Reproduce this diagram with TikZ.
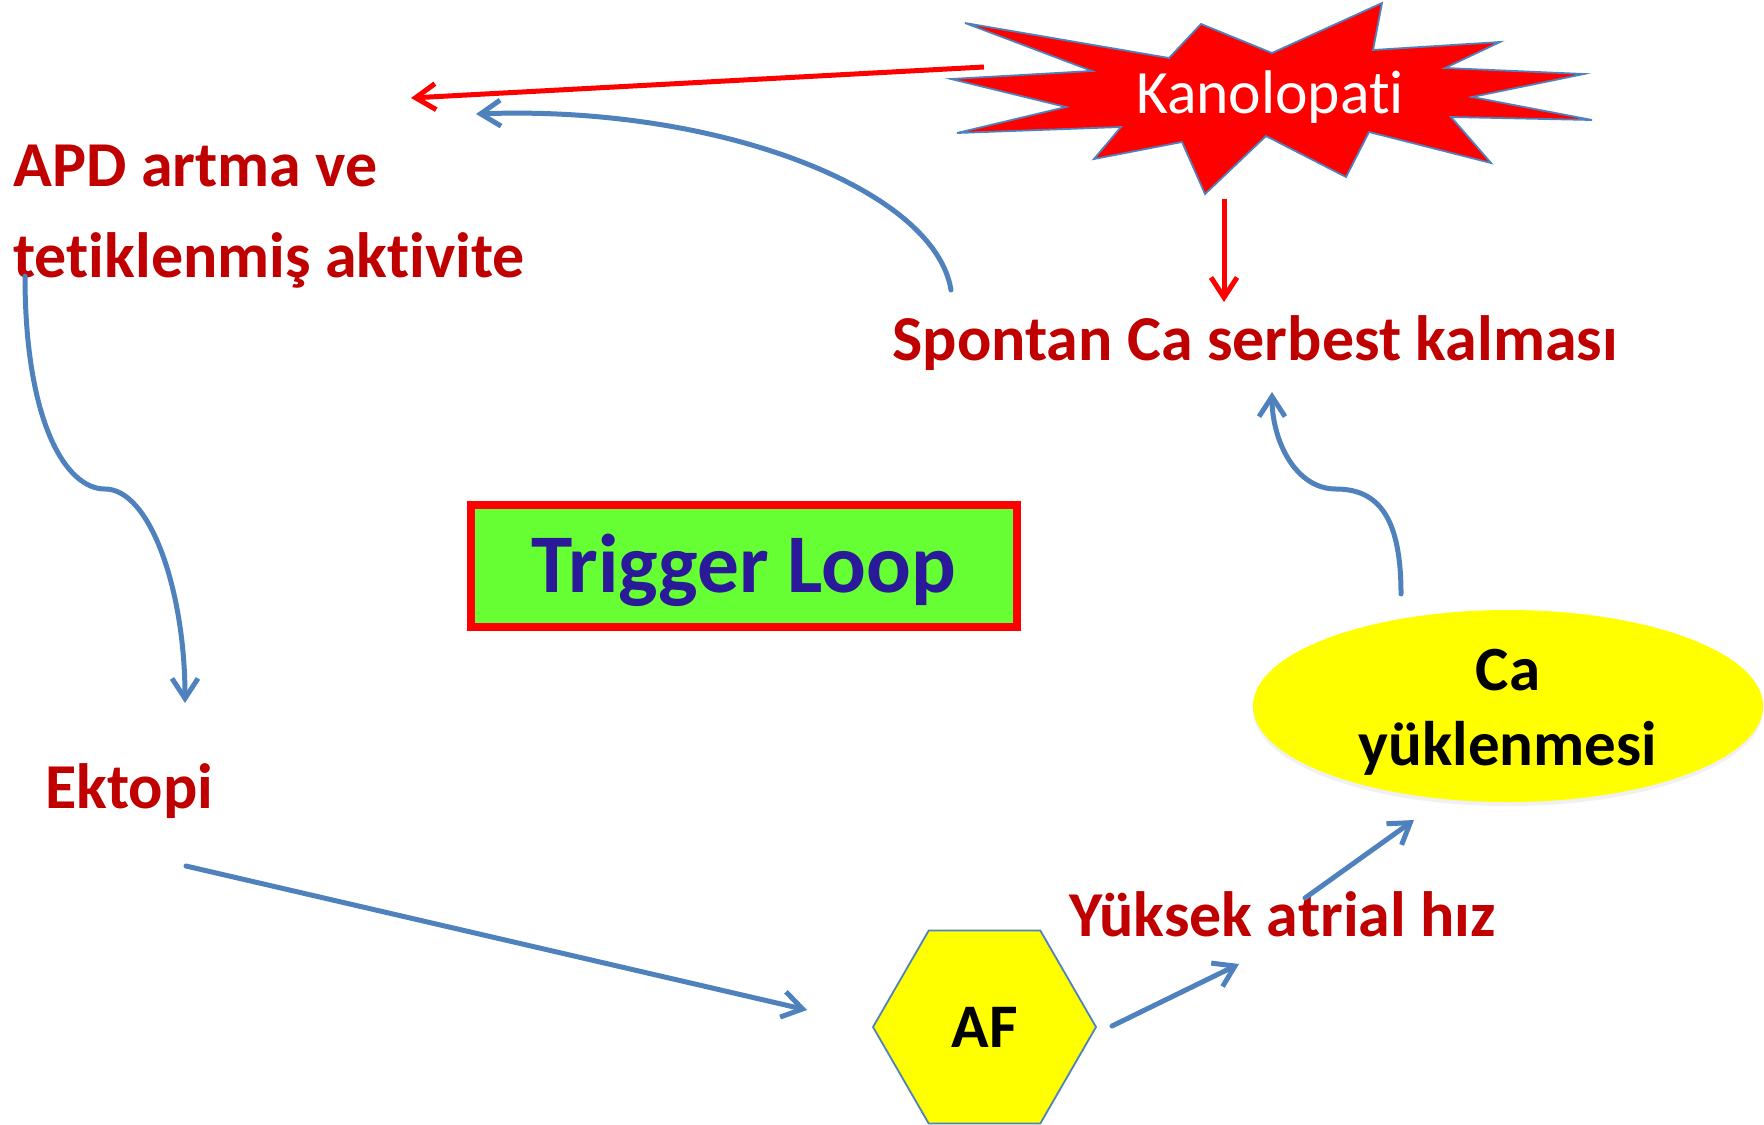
\documentclass[tikz,border=0pt]{standalone}
\usepackage{fontspec}
\setmainfont{Carlito}[RawFeature={-liga}]
\usetikzlibrary{arrows.meta,shapes.geometric,shadows}

\definecolor{txtred}{HTML}{C00000}
\definecolor{arrred}{HTML}{FF0000}
\definecolor{arrblue}{HTML}{4F81BD}
\definecolor{loopblue}{HTML}{2A1A99}
\definecolor{loopgreen}{HTML}{66FF33}
\definecolor{ylw}{HTML}{FFFF00}

\begin{document}
\begin{tikzpicture}[x=0.5pt,y=-0.5pt,
  lbl/.style={text=txtred, font=\fontsize{32}{38}\selectfont\bfseries, inner sep=0pt, anchor=base west},
  blk/.style={text=black, font=\fontsize{31.5}{38}\selectfont\bfseries, inner sep=0pt, anchor=base},
  barrow/.style={draw=arrblue, line width=2.5pt, line cap=round, -{Straight Barb[length=10pt,width=13pt]}},
  rarrow/.style={draw=arrred, line width=2.5pt, -{Straight Barb[length=10pt,width=13pt]}},
]
\useasboundingbox (0,0) rectangle (1764,1124);

% starburst
\filldraw[fill=arrred, draw=arrblue, line width=0.9pt, line join=miter]
  (965,23) -- (1169,58) -- (1201,24) -- (1272,53) -- (1382,3) -- (1373,50)
  -- (1500,42) -- (1445,68) -- (1584,74) -- (1472,97) -- (1592,120)
  -- (1451,117) -- (1491,163) -- (1369,132) -- (1346,177) -- (1266,136)
  -- (1205,194) -- (1182,142) -- (1094,159) -- (1121,127) -- (957,133)
  -- (1066,107) -- (951,79) -- (1092,71) -- cycle;
\node[text=white, font=\fontsize{30.8}{37}\selectfont, inner sep=0pt, anchor=base] (kan) at (1270,113) {Kanolopati};

% labels
\node[lbl] (apd1) at (13,186) {APD artma ve};
\node[lbl] (apd2) at (13,277) {tetiklenmiş aktivite};
\node[lbl] (spon) at (892,360) {Spontan Ca serbest kalması};
\node[lbl] (ekt) at (45,808) {Ektopi};
\node[lbl] (yuk) at (1069,936) {Yüksek atrial hız};

% trigger loop box
\node[draw=arrred, line width=3.75pt, fill=loopgreen, minimum width=273pt, minimum height=61pt,
      inner sep=0pt, text=loopblue, font=\fontsize{41.7}{50}\selectfont\bfseries,
      text height=26.8pt, text depth=0pt] (trig) at (744,566) {Trigger Loop};

% ellipse
\node[ellipse, fill=ylw, minimum width=255pt, minimum height=96pt, inner sep=0pt,
      drop shadow={shadow xshift=0pt, shadow yshift=-2pt, opacity=0.12}] (ca) at (1508,706) {};
\node[blk] (ca1) at (1508,690) {Ca};
\node[blk] (ca2) at (1508,765) {yüklenmesi};

% hexagon
\node[regular polygon, regular polygon sides=6, minimum size=111.5pt, inner sep=0pt,
      fill=ylw, draw=arrblue, line width=0.9pt, text=black,
      font=\fontsize{31}{36}\selectfont\bfseries] (af) at (984.5,1027) {AF};

% coordinates for connector ends
\coordinate (kanL) at (984,67);
\coordinate (apdR) at (411,98);
\coordinate (sponT) at (951,290);
\coordinate (apdR2) at (476,114);
\coordinate (kanB) at (1224,199);
\coordinate (sponTop) at (1224,302);
\coordinate (caT) at (1401,594);
\coordinate (sponB) at (1272,392);
\coordinate (apdB) at (25,276);
\coordinate (ektT) at (185,703);
\coordinate (ektB) at (186,866);
\coordinate (afL) at (807,1010);
\coordinate (afR) at (1112,1026);
\coordinate (yukL) at (1239,964);
\coordinate (yukR) at (1305,898);
\coordinate (caB) at (1414,820);

% connectors
\draw[rarrow] (kanL) -- (apdR);
\draw[barrow] (sponT) .. controls (935,190) and (720,105) .. (apdR2);
\draw[rarrow] (kanB) -- (sponTop);
\draw[barrow] (caT) .. controls (1401,520) and (1380,489) .. (1336,489)
  .. controls (1295,489) and (1272,440) .. (sponB);
\draw[barrow] (apdB) .. controls (25,420) and (65,489) .. (105,489)
  .. controls (150,489) and (185,590) .. (ektT);
\draw[barrow] (ektB) -- (afL);
\draw[barrow] (afR) -- (yukL);
\draw[barrow] (yukR) -- (caB);
\end{tikzpicture}
\end{document}
